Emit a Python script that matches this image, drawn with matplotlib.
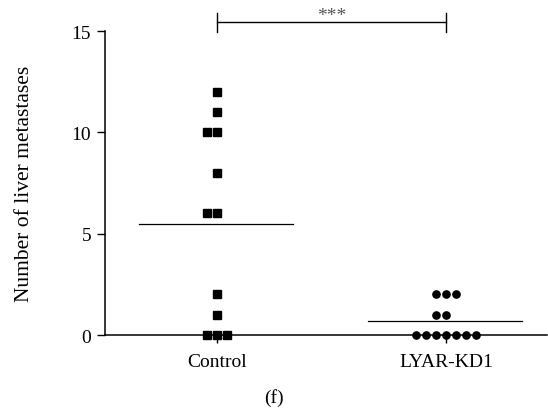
import numpy as np
import matplotlib.pyplot as plt

plt.rcParams['font.family'] = ['Liberation Serif', 'DejaVu Serif']

# data
groups = ["Control", "LYAR-KD1"]
control = [12, 11, 10, 10, 8, 6, 6, 2, 1, 0, 0, 0]
lyar_kd1 = [2, 2, 2, 1, 1, 0, 0, 0, 0, 0, 0, 0]
markers = ["s", "o"]
spacing = [0.042, 0.044]


def spread(values, center, step):
    # points with same value are placed side by side
    xs, ys = [], []
    for v in sorted(set(values)):
        n = values.count(v)
        offs = np.arange(n) - n // 2
        xs.extend(center + offs * step)
        ys.extend([v] * n)
    return np.array(xs), np.array(ys)


fig = plt.figure(figsize=(5.48, 4.14), dpi=100)
ax = fig.add_axes([0.1916, 0.1884, 0.8064, 0.7343])

for i, vals in enumerate([control, lyar_kd1]):
    xs, ys = spread(vals, i, spacing[i])
    ax.plot(xs, ys, linestyle="none", marker=markers[i], color="black",
            markersize=6 if markers[i] == "s" else 5.2, clip_on=False, zorder=3)
    m = np.mean(vals)
    ax.plot([i - 0.34, i + 0.33], [m, m], color="black", linewidth=0.9)

ax.set_xlim(-0.489, 1.44)
ax.set_ylim(0, 15)
ax.set_xticks([0, 1])
ax.set_xticklabels(groups)
ax.set_yticks([0, 5, 10, 15])
ax.tick_params(axis="both", labelsize=14, length=6, width=1, direction="out", pad=4)
ax.tick_params(axis="x", pad=7)
ax.spines["top"].set_visible(False)
ax.spines["right"].set_visible(False)
ax.spines["left"].set_linewidth(1.1)
ax.spines["bottom"].set_linewidth(1.1)
ax.set_ylabel("Number of liver metastases", fontsize=15.5, labelpad=27)

# significance bracket
yb = 15.44
ax.plot([0, 1], [yb, yb], color="black", linewidth=1, clip_on=False)
ax.plot([0, 0], [14.95, 15.9], color="black", linewidth=1, clip_on=False)
ax.plot([1, 1], [14.95, 15.9], color="black", linewidth=1, clip_on=False)
ax.text(0.5, yb - 0.1, "***", ha="center", va="bottom", fontsize=14, color="#555555")

fig.text(274 / 548, 1 - 398 / 414, "(f)", ha="center", va="center", fontsize=14)

fig.savefig("out.png", dpi=100)
